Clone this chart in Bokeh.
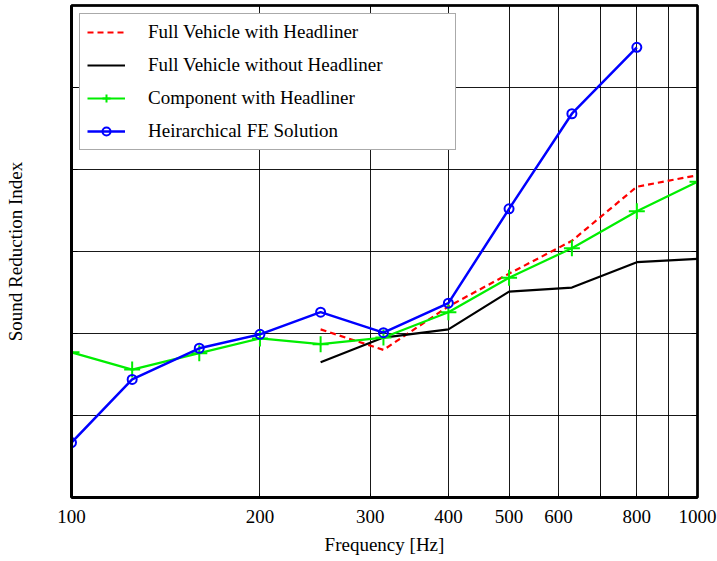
from bokeh.plotting import figure
from bokeh.models import FixedTicker, LinearAxis, LogAxis, Legend, LegendItem
from bokeh.embed import file_html
from bokeh.resources import INLINE

# One-third octave band centre frequencies [Hz]
freq = [100, 125, 160, 200, 250, 315, 400, 500, 630, 800, 1000]

# Sound reduction index (dB)
full_with = [20.5, 18.0, 23.3, 27.3, 31.3, 37.9, 39.3]          # 250 .. 1000 Hz
full_without = [16.5, 19.5, 20.5, 25.1, 25.6, 28.7, 29.1]       # 250 .. 1000 Hz
component = [17.7, 15.6, 17.6, 19.4, 18.7, 19.5, 22.6, 26.8, 30.4, 34.9, 38.5]
fe_solution = [6.7, 14.4, 18.2, 19.9, 22.6, 20.1, 23.7, 35.2, 46.8, 54.9]  # 100 .. 800 Hz

x_ticks = [100, 200, 300, 400, 500, 600, 700, 800, 900, 1000]
x_tick_labels = {100: "100", 200: "200", 300: "300", 400: "400", 500: "500",
                 600: "600", 700: "", 800: "800", 900: "", 1000: "1000"}
y_ticks = [0, 10, 20, 30, 40, 50, 60]

FONT = "Liberation Serif"
FSIZE = "19px"

p = figure(width=717, height=561, x_axis_type="log",
           x_range=(100, 1000), y_range=(0, 60),
           output_backend="svg", toolbar_location=None,
           min_border_left=71, min_border_right=20,
           min_border_top=5, min_border_bottom=64)
p.background_fill_color = "white"
p.border_fill_color = "white"
p.outline_line_color = "black"
p.outline_line_width = 2.5

xa = p.xaxis[0]
xa.ticker = FixedTicker(ticks=x_ticks)
xa.major_label_overrides = x_tick_labels
xa.minor_tick_line_color = None
xa.major_tick_in = 4
xa.major_tick_out = 0
xa.axis_line_width = 3
xa.major_label_text_font = FONT
xa.major_label_text_font_size = FSIZE
xa.major_label_text_color = "black"
xa.major_label_standoff = 12
xa.axis_label = "Frequency [Hz]"
xa.axis_label_text_font = FONT
xa.axis_label_text_font_size = FSIZE
xa.axis_label_text_font_style = "normal"
xa.axis_label_text_color = "black"
xa.axis_label_standoff = 8

ya = p.yaxis[0]
ya.ticker = FixedTicker(ticks=y_ticks)
ya.major_label_overrides = {t: "" for t in y_ticks}
ya.minor_tick_line_color = None
ya.major_tick_in = 6
ya.major_tick_out = 0
ya.axis_line_width = 3
ya.axis_label = "Sound Reduction Index"
ya.axis_label_text_font = FONT
ya.axis_label_text_font_size = FSIZE
ya.axis_label_text_font_style = "normal"
ya.axis_label_text_color = "black"
ya.axis_label_standoff = 46

# tick marks on the opposite sides
ra = LinearAxis(ticker=FixedTicker(ticks=y_ticks), major_label_overrides={t: "" for t in y_ticks},
                major_tick_in=6, major_tick_out=0, minor_tick_line_color=None,
                axis_line_width=2, major_label_standoff=0)
p.add_layout(ra, "right")
ta = LogAxis(ticker=FixedTicker(ticks=x_ticks), major_label_overrides={t: "" for t in x_ticks},
             major_tick_in=4, major_tick_out=0, minor_tick_line_color=None,
             axis_line_width=2, major_label_standoff=0)
p.add_layout(ta, "above")

p.xgrid.grid_line_color = "black"
p.xgrid.grid_line_width = 1
p.xgrid.grid_line_alpha = 0.9
p.ygrid.grid_line_color = "black"
p.ygrid.grid_line_width = 1
p.ygrid.grid_line_alpha = 0.9

r_red = p.line(freq[4:], full_with, line_color="red", line_width=2.2, line_dash="6 4")
r_black = p.line(freq[4:], full_without, line_color="black", line_width=2.2)
r_green = p.line(freq, component, line_color="#00ee00", line_width=2.2)
r_green_m = p.scatter(freq, component, marker="cross", size=16, line_color="#00ee00", line_width=2)
r_blue = p.line(freq[:10], fe_solution, line_color="blue", line_width=2.5)
r_blue_m = p.scatter(freq[:10], fe_solution, marker="circle", size=9, line_color="blue",
                     fill_color="white", fill_alpha=0, line_width=2)

legend = Legend(items=[
    LegendItem(label="Full Vehicle with Headliner", renderers=[r_red]),
    LegendItem(label="Full Vehicle without Headliner", renderers=[r_black]),
    LegendItem(label="Component with Headliner", renderers=[r_green, r_green_m]),
    LegendItem(label="Heirarchical FE Solution", renderers=[r_blue, r_blue_m]),
], location="top_left")
legend.margin = 8
legend.padding = 7
legend.spacing = 11
legend.glyph_width = 38
legend.glyph_height = 20
legend.label_height = 20
legend.label_width = 300
legend.label_standoff = 23
legend.label_text_font = FONT
legend.label_text_font_size = FSIZE
legend.label_text_color = "black"
legend.border_line_color = "#555555"
legend.border_line_width = 1.5
legend.background_fill_color = "white"
legend.background_fill_alpha = 1
p.add_layout(legend)

open("out.html", "w").write(file_html(p, INLINE))
